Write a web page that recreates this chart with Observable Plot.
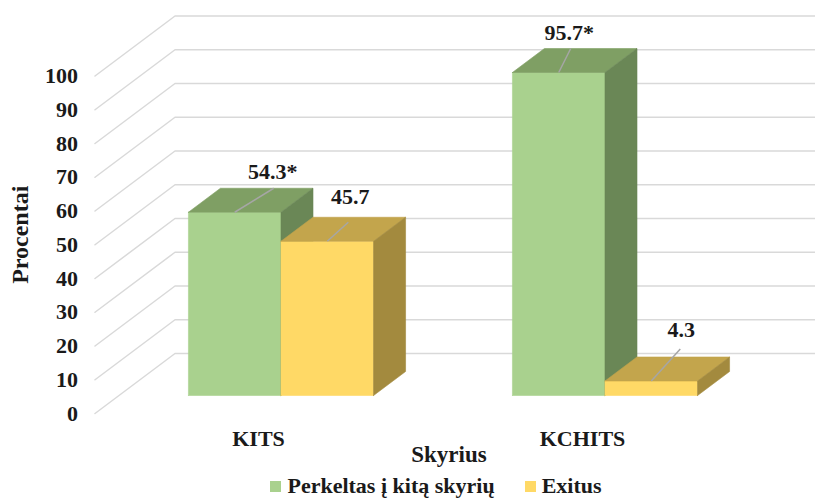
<!DOCTYPE html>
<html>
<head>
<meta charset="utf-8">
<script src="https://cdn.jsdelivr.net/npm/d3@7"></script>
<script src="https://cdn.jsdelivr.net/npm/@observablehq/plot@0.6"></script>
<style>
  html, body { margin: 0; padding: 0; background: #fff; overflow: hidden; }
  body { font-family: "Liberation Serif", "Times New Roman", serif; }
  #legend {
    display: flex; justify-content: center; align-items: center;
    padding-left: 57px; height: 26px; line-height: 26px;
    font-size: 22px; font-weight: bold; color: #1a1a1a;
  }
  .item { display: flex; align-items: center; margin: 0 15px; }
  .sw { display: inline-block; width: 11px; height: 11px; margin-right: 6px; }
</style>
</head>
<body>
<div id="chart"></div>
<div id="legend"></div>
<script>
// ---- data ----
const categories = ["KITS", "KCHITS"];
const seriesNames = ["Perkeltas į kitą skyrių", "Exitus"];
const perkeltas = [54.3, 95.7];
const exitus = [45.7, 4.3];
const perkeltasNote = ["*", "*"];
const exitusNote = ["", ""];
const yTicks = [0, 10, 20, 30, 40, 50, 60, 70, 80, 90, 100];
const xTitle = "Skyrius";
const yTitle = "Procentai";

// ---- styles ----
const faceColors = [
  {front: "#a9d18e", top: "#7f9f64", side: "#6a8756"},
  {front: "#ffd966", top: "#c3a54c", side: "#a38a3e"}
];
const font = "'Liberation Serif', 'Times New Roman', serif";
const ink = "#1a1a1a";

// ---- 3D layout ----
const W = 815, H = 473;
const xDomain = [0, categories.length], yDomain = [0, 100];
const xRange = [94.5, 742.5], yRange = [413, 75.5];
const pxX = (xRange[1] - xRange[0]) / (xDomain[1] - xDomain[0]);
const pxY = (yRange[0] - yRange[1]) / (yDomain[1] - yDomain[0]);
const depthPx = [80, 60];              // floor depth: right / up, in pixels
const DX = depthPx[0] / pxX, DY = depthPx[1] / pxY;
const barW = 1 / 3.5;                  // gap width 150%
const dFront = 0.3, dBack = 0.7;       // bar depth span within the floor
const proj = (x, v, d) => ({X: x + d * DX, Y: v + d * DY});

// leader end and label centre, pixel offsets from the front edge of each top face
const leaderEnd = [[[39, -24], [21, -19]], [[12, -24], [29, -32]]];
const labelAt = [[[38, -40.5], [23, -44.5]], [[10.5, -39.5], [30, -51.5]]];

// gridlines: front edge -> back wall -> right
const grid = [];
for (const v of yTicks) {
  for (const p of [proj(0, v, 0), proj(0, v, 1), proj(xDomain[1], v, 1)]) grid.push({v, ...p});
}

// bar faces, drawn left to right
const seriesValues = [perkeltas, exitus];
const seriesNotes = [perkeltasNote, exitusNote];
const faces = [];
const labels = [];
categories.forEach((c, i) => {
  seriesValues.forEach((vals, s) => {
    const v = vals[i];
    const x0 = i + (1 - 2 * barW) / 2 + s * barW, x1 = x0 + barW;
    const col = faceColors[s];
    const polys = [
      ["front", col.front, [[x0, 0, dFront], [x1, 0, dFront], [x1, v, dFront], [x0, v, dFront]]],
      ["top", col.top, [[x0, v, dFront], [x1, v, dFront], [x1, v, dBack], [x0, v, dBack]]],
      ["side", col.side, [[x1, 0, dFront], [x1, v, dFront], [x1, v, dBack], [x1, 0, dBack]]]
    ];
    for (const [name, color, pts] of polys) {
      const id = `${c}-${s}-${name}`;
      [...pts, pts[0]].forEach(([x, y, d]) => faces.push({id, color, ...proj(x, y, d)}));
    }
    const start = proj((x0 + x1) / 2, v, dFront);
    const le = leaderEnd[i][s], la = labelAt[i][s];
    labels.push({
      X1: start.X, Y1: start.Y,
      X2: start.X + le[0] / pxX, Y2: start.Y - le[1] / pxY,
      LX: start.X + la[0] / pxX, LY: start.Y - la[1] / pxY,
      text: d3.format(".1f")(v) + seriesNotes[s][i]
    });
  });
});

const chart = Plot.plot({
  width: W, height: H, margin: 0,
  x: {type: "linear", domain: xDomain, range: xRange, axis: null},
  y: {type: "linear", domain: yDomain, range: yRange, axis: null},
  color: {type: "identity"},
  style: {fontFamily: font, background: "white", color: ink},
  marks: [
    Plot.line(grid, {x: "X", y: "Y", z: "v", stroke: "#d9d9d9", strokeWidth: 1.5}),
    Plot.text(yTicks, {x: () => 0, y: d => d, text: d => String(d), textAnchor: "end", dx: -17,
      fontSize: 22, fontWeight: "bold", fill: ink}),
    Plot.line(faces, {x: "X", y: "Y", z: "id", fill: "color", stroke: "color", strokeWidth: 0.6}),
    Plot.link(labels, {x1: "X1", y1: "Y1", x2: "X2", y2: "Y2", stroke: "#a6a6a6", strokeWidth: 1.5}),
    Plot.text(labels, {x: "LX", y: "LY", text: "text", fontSize: 22, fontWeight: "bold", fill: ink}),
    Plot.text(categories, {x: (d, i) => i + 0.5, y: () => 0, text: d => d, dx: 1.5, dy: 25.5,
      fontSize: 22, fontWeight: "bold", fill: ink}),
    Plot.text([xTitle], {x: () => 1, y: () => 0, text: d => d, dx: 30, dy: 41.5,
      fontSize: 23, fontWeight: "bold", fill: ink}),
    Plot.text([yTitle], {x: () => 0, y: () => 50, text: d => d, dx: -74.5, dy: -10, rotate: -90,
      fontSize: 24, fontWeight: "bold", fill: ink})
  ]
});
document.getElementById("chart").appendChild(chart);

// legend
const legend = document.getElementById("legend");
seriesNames.forEach((name, s) => {
  const item = document.createElement("span");
  item.className = "item";
  const sw = document.createElement("span");
  sw.className = "sw";
  sw.style.background = faceColors[s].front;
  item.appendChild(sw);
  item.appendChild(document.createTextNode(name));
  legend.appendChild(item);
});
</script>
</body>
</html>
